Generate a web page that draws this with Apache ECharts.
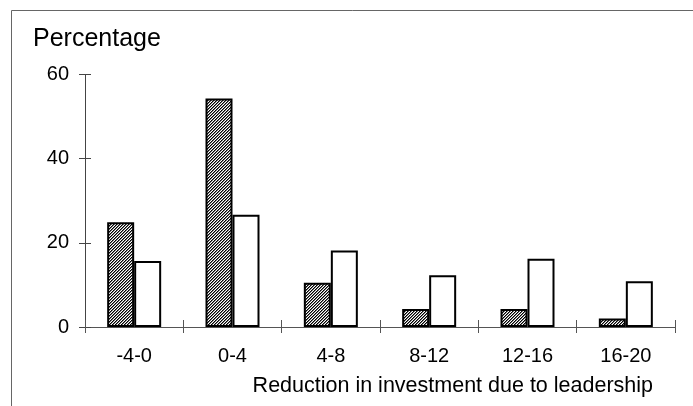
<!DOCTYPE html>
<html>
<head>
<meta charset="utf-8">
<script src="https://cdn.jsdelivr.net/npm/echarts@6/dist/echarts.min.js"></script>
<style>
  html, body { margin: 0; padding: 0; background: #fff; }
  #chart { width: 693px; height: 406px; }
</style>
</head>
<body>
<div id="chart"></div>
<script>
const categories = ['-4-0', '0-4', '4-8', '8-12', '12-16', '16-20'];
const hatchedValues = [24.9, 54.3, 10.5, 4.3, 4.3, 2.0];
const whiteValues = [15.7, 26.7, 18.2, 12.3, 16.2, 10.9];
const yTicks = [0, 20, 40, 60];

// fine diagonal hatch for the dark bars
const hatch = document.createElement('canvas');
hatch.width = 3;
hatch.height = 3;
const hctx = hatch.getContext('2d');
for (let x = 0; x < 3; x++) {
    for (let y = 0; y < 3; y++) {
        const k = (x + y) % 3;
        hctx.fillStyle = k === 0 ? '#fff' : (k === 1 ? '#000' : '#777');
        hctx.fillRect(x, y, 1, 1);
    }
}

const font = '"Liberation Sans", Arial, sans-serif';
const myChart = echarts.init(document.getElementById('chart'));

const option = {
    animation: false,
    grid: { left: 85, right: 18, top: 74.5, bottom: 79, containLabel: false },
    xAxis: [
        {
            type: 'category',
            data: categories,
            axisLine: { lineStyle: { color: '#555', width: 1 } },
            axisTick: { show: true, length: 6, lineStyle: { color: '#555' } },
            axisLabel: { margin: 19, fontSize: 20, color: '#000', fontFamily: font }
        },
        {
            type: 'category',
            data: categories,
            position: 'bottom',
            axisLine: { show: false },
            axisTick: { show: true, inside: true, length: 7, lineStyle: { color: '#555' } },
            axisLabel: { show: false }
        }
    ],
    yAxis: [
        {
            type: 'value',
            min: yTicks[0],
            max: yTicks[yTicks.length - 1],
            interval: 20,
            axisLine: { show: true, lineStyle: { color: '#444', width: 1 } },
            axisTick: { show: true, length: 6, lineStyle: { color: '#444' } },
            axisLabel: { margin: 16, fontSize: 20, color: '#000', fontFamily: font },
            splitLine: { show: false }
        },
        {
            type: 'value',
            min: yTicks[0],
            max: yTicks[yTicks.length - 1],
            interval: 20,
            position: 'left',
            offset: 0,
            axisLine: { show: false },
            axisTick: { show: true, inside: true, length: 6, lineStyle: { color: '#444' } },
            axisLabel: { show: false },
            splitLine: { show: false }
        }
    ],
    series: [
        {
            type: 'bar',
            data: hatchedValues,
            barWidth: 27,
            barGap: '0%',
            itemStyle: {
                color: { image: hatch, repeat: 'repeat' },
                borderColor: '#000',
                borderWidth: 2
            }
        },
        {
            type: 'bar',
            data: whiteValues,
            barWidth: 27,
            barGap: '0%',
            itemStyle: { color: '#fff', borderColor: '#000', borderWidth: 2 }
        }
    ],
    graphic: [
        {
            type: 'rect',
            shape: { x: 11.5, y: 10.5, width: 720, height: 440 },
            style: { fill: 'none', stroke: '#666', lineWidth: 1 },
            silent: true
        },
        {
            type: 'text',
            left: 33,
            top: 27,
            style: { text: 'Percentage', fontSize: 25, fill: '#000', fontFamily: font }
        },
        {
            type: 'text',
            right: 40,
            top: 375,
            style: { text: 'Reduction in investment due to leadership', fontSize: 21.5, fill: '#000', fontFamily: font }
        }
    ]
};

myChart.setOption(option);
</script>
</body>
</html>
